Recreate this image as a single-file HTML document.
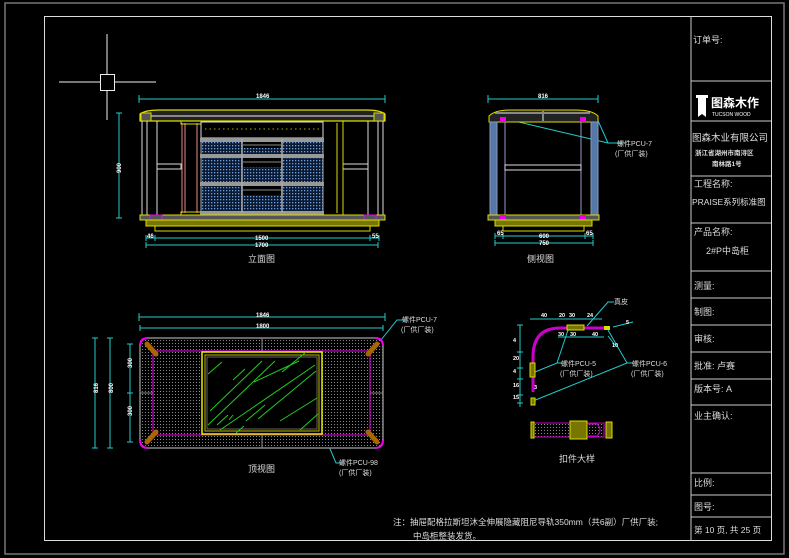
<!DOCTYPE html>
<html><head><meta charset="utf-8">
<style>
html,body{margin:0;padding:0;background:#000;}
svg{display:block;}
text{font-family:"Liberation Sans","Noto Sans CJK SC",sans-serif;}
</style></head>
<body>
<svg width="789" height="558" viewBox="0 0 789 558" xmlns="http://www.w3.org/2000/svg">
<defs>
<pattern id="dots" width="3" height="3" patternUnits="userSpaceOnUse">
<rect width="3" height="3" fill="#000"/><rect x="1" y="1" width="1" height="1" fill="#888"/>
</pattern>
<pattern id="bdots" width="3" height="3" patternUnits="userSpaceOnUse">
<rect width="3" height="3" fill="#0a1a33"/><rect x="1" y="1" width="1.3" height="1.3" fill="#6fa0e0"/>
</pattern>
</defs>
<rect width="789" height="558" fill="#000"/>
<!-- frames -->
<rect x="5" y="3" width="779" height="551" fill="none" stroke="#777" stroke-width="1.5"/>
<rect x="44.5" y="16.5" width="727" height="524" fill="none" stroke="#ddd" stroke-width="1"/>
<g stroke="#ccc" stroke-width="1">
<line x1="691" y1="16" x2="691" y2="541"/>
<line x1="691" y1="81" x2="771" y2="81"/>
<line x1="691" y1="121" x2="771" y2="121"/>
<line x1="691" y1="176" x2="771" y2="176"/>
<line x1="691" y1="223" x2="771" y2="223"/>
<line x1="691" y1="271" x2="771" y2="271"/>
<line x1="691" y1="298" x2="771" y2="298"/>
<line x1="691" y1="325" x2="771" y2="325"/>
<line x1="691" y1="352" x2="771" y2="352"/>
<line x1="691" y1="379" x2="771" y2="379"/>
<line x1="691" y1="405" x2="771" y2="405"/>
<line x1="691" y1="473" x2="771" y2="473"/>
<line x1="691" y1="495" x2="771" y2="495"/>
<line x1="691" y1="517" x2="771" y2="517"/>
</g>
<g fill="#ddd" font-size="9">
<text x="693" y="43">订单号:</text>
<text x="692" y="141" font-size="9.5">图森木业有限公司</text>
<text x="695" y="155" font-size="6.5" font-weight="bold">浙江省湖州市南浔区</text>
<text x="712" y="166" font-size="6.5" font-weight="bold">南林路1号</text>
<text x="694" y="187">工程名称:</text>
<text x="692" y="205" font-size="8.5">PRAISE系列标准图</text>
<text x="694" y="235">产品名称:</text>
<text x="706" y="254">2#P中岛柜</text>
<text x="694" y="289">测量:</text>
<text x="694" y="315">制图:</text>
<text x="694" y="342">审核:</text>
<text x="694" y="369">批准: 卢赛</text>
<text x="694" y="392">版本号:  A</text>
<text x="694" y="419">业主确认:</text>
<text x="694" y="486">比例:</text>
<text x="694" y="510">图号:</text>
<text x="694" y="533" font-size="8.5">第 10 页, 共 25 页</text>
</g>
<!-- logo -->
<g fill="#fff">
<path d="M696 95h12v3h-2v19l-4-3-4 3v-19h-2z"/>
<text x="711" y="107" font-size="12" font-weight="bold">图森木作</text>
<text x="712" y="116" font-size="5">TUCSON WOOD</text>
</g>
<!-- crosshair -->
<g stroke="#eee" stroke-width="1" fill="none">
<line x1="107" y1="34" x2="107" y2="120"/>
<line x1="59" y1="82" x2="156" y2="82"/>
<rect x="100.5" y="74.5" width="14" height="16" fill="#000"/>
</g>

<!-- ===== Front elevation ===== -->
<g stroke="#2cc" stroke-width="1" fill="none">
<line x1="139" y1="99" x2="385" y2="99"/><line x1="139" y1="95" x2="139" y2="103"/><line x1="385" y1="95" x2="385" y2="103"/>
<line x1="146" y1="238" x2="379" y2="238"/><line x1="146" y1="235" x2="146" y2="241"/><line x1="379" y1="235" x2="379" y2="241"/>
<line x1="155" y1="235" x2="155" y2="241"/><line x1="370" y1="235" x2="370" y2="241"/>
<line x1="146" y1="245" x2="378" y2="245"/><line x1="146" y1="242" x2="146" y2="248"/><line x1="378" y1="242" x2="378" y2="248"/>
<line x1="119" y1="113" x2="119" y2="218"/><line x1="116" y1="113" x2="122" y2="113"/><line x1="116" y1="218" x2="122" y2="218"/>
</g>
<g fill="#fff" font-size="6" font-weight="bold">
<text x="256" y="98">1846</text><text x="255" y="240">1500</text><text x="255" y="247">1700</text>
<text x="147" y="238">46</text><text x="372" y="238">55</text>
<text x="114" y="174" transform="rotate(-90 117 170)">900</text>
</g>
<path d="M140 114 Q145 110 160 110 H366 Q380 110 385 114 V121 H140Z" fill="#222" stroke="#dd0" stroke-width="1.2"/>
<line x1="145" y1="116" x2="380" y2="116" stroke="#888" stroke-width="2"/>
<rect x="141" y="113" width="10" height="8" fill="#555" stroke="#dd0"/>
<rect x="374" y="113" width="10" height="8" fill="#555" stroke="#dd0"/>
<g stroke="#ddd" stroke-width="1" fill="none">
<line x1="142" y1="121" x2="142" y2="216"/><line x1="147" y1="121" x2="147" y2="216"/>
<line x1="157" y1="121" x2="157" y2="216"/><line x1="368" y1="121" x2="368" y2="216"/>
<line x1="378" y1="121" x2="378" y2="216"/><line x1="383" y1="121" x2="383" y2="216"/>
<rect x="157" y="164" width="24" height="5"/><rect x="343" y="164" width="25" height="5"/>
</g>
<g stroke="#e88" stroke-width="1" fill="none">
<line x1="182" y1="123" x2="182" y2="213"/><line x1="185" y1="123" x2="185" y2="213"/><line x1="197" y1="123" x2="197" y2="213"/>
</g>
<rect x="181" y="121" width="20" height="3" fill="none" stroke="#dd0"/>
<rect x="181" y="212" width="20" height="3" fill="none" stroke="#dd0"/>
<g stroke="#dd0" stroke-width="1" fill="none">
<rect x="323" y="121" width="20" height="94"/><line x1="337" y1="123" x2="337" y2="213"/>
</g>
<rect x="201" y="122" width="122" height="16" fill="#000" stroke="#ddd"/>
<line x1="205" y1="129" x2="320" y2="129" stroke="#aa0" stroke-dasharray="1.5 3"/>
<!-- drawers -->
<rect x="201" y="139" width="122" height="74" fill="url(#bdots)" stroke="#aaa"/>
<g fill="#999">
<rect x="200" y="138" width="124" height="4"/><rect x="200" y="154" width="124" height="4"/>
<rect x="200" y="182" width="124" height="4"/><rect x="200" y="211" width="124" height="4"/>
</g>
<g stroke="#aaa" stroke-width="1.5">
<line x1="242" y1="139" x2="242" y2="213"/><line x1="282" y1="139" x2="282" y2="213"/>
</g>
<g fill="#000"><rect x="243" y="142" width="38" height="6"/><rect x="243" y="158" width="38" height="9"/><rect x="243" y="186" width="38" height="9"/></g>
<g stroke="#888"><line x1="243" y1="145" x2="281" y2="145"/><line x1="243" y1="162" x2="281" y2="162"/><line x1="243" y1="190" x2="281" y2="190"/></g>
<rect x="140" y="215" width="245" height="5" fill="#555" stroke="#dd0"/>
<rect x="150" y="215" width="12" height="5" fill="none" stroke="#e0e"/>
<rect x="364" y="215" width="12" height="5" fill="none" stroke="#e0e"/>
<rect x="146" y="220" width="233" height="6" fill="#770" stroke="#dd0"/>
<rect x="155" y="226" width="215" height="5" fill="#000" stroke="#dd0"/>
<text x="248" y="262" fill="#ddd" font-size="9">立面图</text>

<!-- ===== Side view ===== -->
<g stroke="#2cc" stroke-width="1" fill="none">
<line x1="488" y1="99" x2="598" y2="99"/><line x1="488" y1="95" x2="488" y2="103"/><line x1="598" y1="95" x2="598" y2="103"/>
<line x1="495" y1="236" x2="593" y2="236"/><line x1="495" y1="233" x2="495" y2="239"/><line x1="593" y1="233" x2="593" y2="239"/>
<line x1="503" y1="233" x2="503" y2="239"/><line x1="585" y1="233" x2="585" y2="239"/>
<line x1="495" y1="243" x2="593" y2="243"/><line x1="495" y1="240" x2="495" y2="246"/><line x1="593" y1="240" x2="593" y2="246"/>
<polyline points="493,116 608,143 625,143"/><line x1="595" y1="114" x2="608" y2="143"/>
</g>
<g fill="#fff" font-size="6" font-weight="bold">
<text x="538" y="98">816</text><text x="539" y="238">600</text><text x="539" y="245">750</text>
<text x="497" y="235">65</text><text x="586" y="235">65</text>
</g>
<text x="617" y="146" fill="#ddd" font-size="7">螺件PCU-7</text>
<text x="615" y="156" fill="#ddd" font-size="7">(厂供厂装)</text>
<path d="M489 116 Q495 110 510 110 H576 Q592 110 598 116 V122 H489Z" fill="#222" stroke="#dd0"/>
<line x1="495" y1="113" x2="590" y2="113" stroke="#aaa" stroke-width="1.5"/>
<line x1="543" y1="111" x2="543" y2="121" stroke="#888" stroke-width="2"/>
<rect x="490" y="122" width="7" height="94" fill="#5578a8" stroke="#89b"/>
<rect x="591" y="122" width="7" height="94" fill="#5578a8" stroke="#89b"/>
<g stroke="#99c" fill="none"><line x1="505" y1="122" x2="505" y2="216"/><line x1="581" y1="122" x2="581" y2="216"/></g>
<rect x="505" y="165" width="76" height="5" fill="none" stroke="#ddd"/>
<rect x="500" y="117" width="6" height="5" fill="#e0e"/><rect x="580" y="117" width="6" height="5" fill="#e0e"/>
<rect x="488" y="215" width="111" height="5" fill="#555" stroke="#dd0"/>
<rect x="500" y="215" width="6" height="5" fill="#e0e"/><rect x="580" y="215" width="6" height="5" fill="#e0e"/>
<rect x="495" y="220" width="97" height="6" fill="#770" stroke="#dd0"/>
<rect x="503" y="226" width="81" height="5" fill="#000" stroke="#dd0"/>
<text x="527" y="262" fill="#ddd" font-size="9">侧视图</text>

<!-- ===== Top view ===== -->
<g stroke="#2cc" stroke-width="1" fill="none">
<line x1="139" y1="317" x2="385" y2="317"/><line x1="139" y1="313" x2="139" y2="321"/><line x1="385" y1="313" x2="385" y2="321"/>
<line x1="140" y1="328" x2="383" y2="328"/><line x1="140" y1="325" x2="140" y2="331"/><line x1="383" y1="325" x2="383" y2="331"/>
<line x1="95" y1="338" x2="95" y2="448"/><line x1="92" y1="338" x2="98" y2="338"/><line x1="92" y1="448" x2="98" y2="448"/>
<line x1="110" y1="338" x2="110" y2="448"/><line x1="107" y1="338" x2="113" y2="338"/><line x1="107" y1="448" x2="113" y2="448"/>
<line x1="130" y1="344" x2="130" y2="442"/><line x1="127" y1="344" x2="133" y2="344"/><line x1="127" y1="393" x2="133" y2="393"/><line x1="127" y1="442" x2="133" y2="442"/>
<polyline points="377,345 397,320 405,320"/>
<polyline points="322,430 336,463 342,463"/>
</g>
<g fill="#fff" font-size="6" font-weight="bold">
<text x="256" y="317">1846</text><text x="256" y="328">1800</text>
<text x="93" y="398" transform="rotate(-90 93 393)">816</text>
<text x="108" y="398" transform="rotate(-90 108 393)">800</text>
<text x="128" y="372" transform="rotate(-90 128 368)">300</text>
<text x="128" y="420" transform="rotate(-90 128 416)">300</text>
</g>
<text x="402" y="322" fill="#ddd" font-size="7">螺件PCU-7</text>
<text x="401" y="332" fill="#ddd" font-size="7">(厂供厂装)</text>
<text x="339" y="465" fill="#ddd" font-size="7">螺件PCU-98</text>
<text x="339" y="475" fill="#ddd" font-size="7">(厂供厂装)</text>
<rect x="140" y="338" width="243" height="110" rx="8" fill="url(#dots)" stroke="#888" stroke-width="1.5"/>
<path d="M140 346 Q140 338 148 338" stroke="#e0e" stroke-width="2" fill="none"/>
<path d="M140 440 Q140 448 148 448" stroke="#e0e" stroke-width="2" fill="none"/>
<path d="M375 338 Q383 338 383 346" stroke="#e0e" stroke-width="2" fill="none"/>
<path d="M383 440 Q383 448 375 448" stroke="#e0e" stroke-width="2" fill="none"/>
<rect x="153" y="351" width="217" height="84" fill="none" stroke="#c0c" stroke-width="1.2"/>
<g stroke="#888"><line x1="262" y1="338" x2="262" y2="351"/><line x1="262" y1="435" x2="262" y2="448"/>
<line x1="140" y1="393" x2="153" y2="393"/><line x1="370" y1="393" x2="383" y2="393"/></g>
<rect x="202" y="352" width="120" height="82" fill="#000" stroke="#ee0" stroke-width="1.5"/>
<rect x="205" y="355" width="114" height="76" fill="none" stroke="#bb0"/>
<rect x="207" y="357" width="110" height="72" fill="none" stroke="#666"/>
<g stroke="#2c2" stroke-width="1">
<line x1="208" y1="374" x2="222" y2="362"/><line x1="210" y1="411" x2="262" y2="361"/><line x1="233" y1="380" x2="245" y2="369"/>
<line x1="208" y1="425" x2="275" y2="361"/><line x1="254" y1="382" x2="299" y2="361"/><line x1="220" y1="430" x2="315" y2="365"/>
<line x1="246" y1="421" x2="265" y2="405"/><line x1="258" y1="419" x2="316" y2="371"/><line x1="280" y1="421" x2="317" y2="398"/>
<line x1="300" y1="430" x2="318" y2="414"/><line x1="217" y1="425" x2="228" y2="415"/><line x1="236" y1="433" x2="244" y2="426"/>
<line x1="282" y1="372" x2="306" y2="352"/><line x1="229" y1="420" x2="233" y2="415"/>
</g>
<g stroke="#a60" stroke-width="5" stroke-linecap="round">
<line x1="147" y1="344" x2="156" y2="354"/><line x1="377" y1="344" x2="368" y2="354"/>
<line x1="147" y1="442" x2="156" y2="432"/><line x1="377" y1="442" x2="368" y2="432"/>
</g>
<text x="248" y="472" fill="#ddd" font-size="9">顶视图</text>

<!-- ===== Detail ===== -->
<g stroke="#2cc" stroke-width="1" fill="none">
<line x1="530" y1="319" x2="602" y2="319"/>
<line x1="558" y1="337" x2="604" y2="337"/>
<line x1="520" y1="325" x2="520" y2="407"/>
<line x1="517" y1="325" x2="523" y2="325"/><line x1="517" y1="352" x2="523" y2="352"/><line x1="517" y1="368" x2="523" y2="368"/>
<line x1="517" y1="379" x2="523" y2="379"/><line x1="517" y1="395" x2="523" y2="395"/><line x1="517" y1="403" x2="523" y2="403"/>
<polyline points="587,326 608,302 614,302"/>
<polyline points="535,372 557,363 562,363"/>
<polyline points="568,330 557,363"/>
<polyline points="533,401 627,363 633,363"/>
<polyline points="608,330 627,363"/>
<line x1="613" y1="327" x2="633" y2="322"/>
<line x1="608" y1="336" x2="615" y2="345"/>
</g>
<g fill="#fff" font-size="5.5" font-weight="bold">
<text x="541" y="317">40</text><text x="559" y="317">20</text><text x="569" y="317">30</text><text x="587" y="317">24</text>
<text x="558" y="336">30</text><text x="570" y="336">30</text><text x="592" y="336">40</text>
<text x="612" y="347">10</text><text x="626" y="324">5</text>
<text x="513" y="342">4</text><text x="513" y="360">20</text><text x="513" y="373">4</text><text x="513" y="387">16</text><text x="513" y="399">15</text>
<text x="534" y="389">3</text>
</g>
<text x="614" y="304" fill="#ddd" font-size="7">真皮</text>
<text x="561" y="366" fill="#ddd" font-size="7">螺件PCU-5</text>
<text x="560" y="376" fill="#ddd" font-size="7">(厂供厂装)</text>
<text x="632" y="366" fill="#ddd" font-size="7">螺件PCU-6</text>
<text x="631" y="376" fill="#ddd" font-size="7">(厂供厂装)</text>
<path d="M533 392 V357 Q533 328 560 328 H610" stroke="#c0c" stroke-width="3" fill="none"/>
<rect x="567" y="325" width="17" height="5" fill="#770" stroke="#dd0"/>
<rect x="604" y="326" width="6" height="4" fill="#dd0"/>
<rect x="530" y="363" width="5" height="14" fill="#770" stroke="#dd0"/>
<rect x="531" y="398" width="4" height="7" fill="#770" stroke="#dd0"/>
<rect x="532" y="423" width="72" height="14" fill="url(#dots)" stroke="#c0c"/>
<rect x="531" y="422" width="3" height="16" fill="#770" stroke="#dd0"/>
<rect x="570" y="421" width="17" height="18" fill="#770" stroke="#dd0"/>
<rect x="606" y="422" width="6" height="16" fill="#770" stroke="#dd0"/>
<path d="M587 424 H597 Q603 430 597 436 H587" fill="none" stroke="#c0c"/>
<text x="559" y="462" fill="#ddd" font-size="9">扣件大样</text>

<!-- note -->
<text x="393" y="525" fill="#ddd" font-size="8.5">注：抽屉配格拉斯坦沐全伸展隐藏阻尼导轨350mm（共6副）厂供厂装;</text>
<text x="413" y="539" fill="#ddd" font-size="8.5">中岛柜整装发货。</text>
</svg>
</body></html>
